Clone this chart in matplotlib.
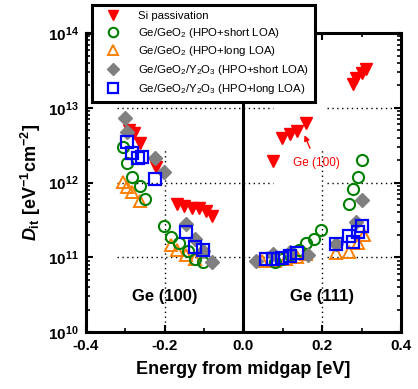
import numpy as np
import matplotlib
matplotlib.use("Agg")
import matplotlib.pyplot as plt
from matplotlib.ticker import FormatStrFormatter, MultipleLocator

plt.rcParams['font.family'] = 'Liberation Sans'
plt.rcParams['axes.unicode_minus'] = False
plt.rcParams['mathtext.fontset'] = 'custom'
plt.rcParams['mathtext.rm'] = 'Liberation Sans'
plt.rcParams['mathtext.it'] = 'Liberation Sans:italic:bold'
plt.rcParams['mathtext.bf'] = 'Liberation Sans:bold'

# Si passivation
si_x = [-0.290, -0.277, -0.262, -0.221, -0.168, -0.150, -0.130, -0.112, -0.094, -0.079,
        0.076, 0.097, 0.117, 0.137, 0.160, 0.277, 0.287, 0.300, 0.312]
si_y = [5.1e12, 4.6e12, 3.4e12, 1.63e12, 5.1e11, 4.9e11, 4.6e11, 4.5e11, 4.2e11, 3.6e11,
        1.97e12, 4.0e12, 4.4e12, 4.9e12, 6.3e12, 2.1e13, 2.5e13, 2.9e13, 3.3e13]

# Ge/GeO2 (HPO+short LOA)
gs_x = [-0.307, -0.295, -0.282, -0.264, -0.251, -0.203, -0.183, -0.163, -0.142, -0.122, -0.104,
        0.079, 0.099, 0.119, 0.140, 0.160, 0.180, 0.198, 0.269, 0.279, 0.290, 0.300]
gs_y = [3.0e12, 1.85e12, 1.2e12, 9.1e11, 6.1e11, 2.6e11, 1.85e11, 1.54e11, 1.2e11, 9.4e10, 8.6e10,
        8.6e10, 9.4e10, 1.06e11, 1.24e11, 1.54e11, 1.74e11, 2.3e11, 5.1e11, 8.1e11, 1.2e12, 2.0e12]

# Ge/GeO2 (HPO+long LOA)
gl_x = [-0.307, -0.297, -0.284, -0.262, -0.185, -0.168, -0.147, -0.124,
        0.046, 0.079, 0.109, 0.135, 0.160, 0.236, 0.269, 0.290, 0.305]
gl_y = [1.03e12, 8.6e11, 7.4e11, 5.6e11, 1.45e11, 1.24e11, 1.06e11, 9.4e10,
        8.8e10, 8.8e10, 9.4e10, 1.0e11, 1.1e11, 1.13e11, 1.17e11, 1.54e11, 1.96e11]

# Ge/GeO2/Y2O3 (HPO+short LOA)
ys_x = [-0.302, -0.295, -0.224, -0.203, -0.145, -0.124, -0.104, -0.081,
        0.033, 0.074, 0.117, 0.163, 0.236, 0.287, 0.300]
ys_y = [7.4e12, 4.8e12, 2.1e12, 1.4e12, 2.75e11, 1.74e11, 1.2e11, 8.6e10,
        8.8e10, 1.1e11, 1.17e11, 1.06e11, 1.49e11, 3.0e11, 5.9e11]

# Ge/GeO2/Y2O3 (HPO+long LOA)
yl_x = [-0.295, -0.284, -0.267, -0.257, -0.224, -0.145, -0.124, -0.104,
        0.056, 0.076, 0.097, 0.117, 0.137, 0.236, 0.267, 0.277, 0.290, 0.300]
yl_y = [3.5e12, 2.5e12, 2.15e12, 2.2e12, 1.13e12, 2.15e11, 1.36e11, 1.24e11,
        9.4e10, 9.4e10, 9.7e10, 1.03e11, 1.13e11, 1.49e11, 1.9e11, 1.58e11, 2.15e11, 2.6e11]

labels = ["Si passivation",
          r"Ge/GeO$_2$ (HPO+short LOA)",
          r"Ge/GeO$_2$ (HPO+long LOA)",
          r"Ge/GeO$_2$/Y$_2$O$_3$ (HPO+short LOA)",
          r"Ge/GeO$_2$/Y$_2$O$_3$ (HPO+long LOA)"]

fig = plt.figure(figsize=(4.18, 3.89), dpi=100)
ax = fig.add_axes([0.2057, 0.1465, 0.7536, 0.7686])

# grid (dotted, broken in the middle like the original)
for yv in [1e11, 1e12, 1e13]:
    ax.plot([-0.32, 0.074], [yv, yv], ls=(0, (1, 2.5)), color='k', lw=1, zorder=0)
    ax.plot([0.211, 0.4], [yv, yv], ls=(0, (1, 2.5)), color='k', lw=1, zorder=0)
for xv in [-0.2, 0.2]:
    ax.plot([xv, xv], [1e10, 2.9e12], ls=(0, (1, 2.5)), color='k', lw=1, zorder=0)
ax.axvline(0, color='k', lw=2.2, zorder=1)

h1, = ax.plot(si_x, si_y, 'v', color='red', ms=9, mec='red', ls='none', zorder=3)
h3, = ax.plot(gl_x, gl_y, '^', mfc='none', mec='#FF8000', mew=1.4, ms=9, ls='none', zorder=3)
h2, = ax.plot(gs_x, gs_y, 'o', mfc='none', mec='green', mew=1.5, ms=8, ls='none', zorder=4)
h4, = ax.plot(ys_x, ys_y, 'D', color='gray', ms=7.5, ls='none', zorder=4)
h5, = ax.plot(yl_x, yl_y, 's', mfc='none', mec='blue', mew=1.6, ms=8, ls='none', zorder=5)

ax.set_yscale('log')
ax.set_xlim(-0.4, 0.4)
ax.set_ylim(1e10, 1e14)
ax.xaxis.set_major_locator(MultipleLocator(0.2))
ax.xaxis.set_minor_locator(MultipleLocator(0.1))
ax.xaxis.set_major_formatter(FormatStrFormatter('%.1f'))
ax.tick_params(which='both', direction='in', top=True, right=True)
ax.tick_params(which='major', length=5, width=1.5, labelsize=11, pad=5)
ax.tick_params(which='minor', length=3, width=1.2)
for lab in ax.get_xticklabels() + ax.get_yticklabels():
    lab.set_fontweight('bold')
for sp in ax.spines.values():
    sp.set_linewidth(2.2)

ax.set_xlabel("Energy from midgap [eV]", fontsize=13, fontweight='bold', labelpad=6)
ax.set_ylabel(r"$\mathit{D}_{\mathbf{it}}$ [eV$^{\mathbf{-1}}$cm$^{\mathbf{-2}}$]",
              fontsize=13, fontweight='bold', labelpad=4)

ax.text(-0.2, 3.0e10, "Ge (100)", fontsize=12, fontweight='bold', ha='center', va='center')
ax.text(0.2, 3.0e10, "Ge (111)", fontsize=12, fontweight='bold', ha='center', va='center')

ax.annotate("Ge (100)", xy=(0.155, 4.3e12), xytext=(0.185, 1.8e12), color='red',
            fontsize=8.5, ha='center', va='center',
            arrowprops=dict(arrowstyle='-|>', color='red', lw=1, mutation_scale=8,
                            shrinkA=5, shrinkB=0))

leg = fig.legend([h1, h2, h3, h4, h5], labels, loc='upper left',
                 bbox_to_anchor=(0.22, 0.987), borderaxespad=0, fontsize=8.2,
                 frameon=True, fancybox=False, edgecolor='k', framealpha=1,
                 borderpad=0.55, labelspacing=0.4, handletextpad=0.9,
                 handlelength=2.6, markerscale=0.85)
leg.get_frame().set_linewidth(2.2)
leg.set_zorder(10)

fig.savefig("out.png", dpi=100)
